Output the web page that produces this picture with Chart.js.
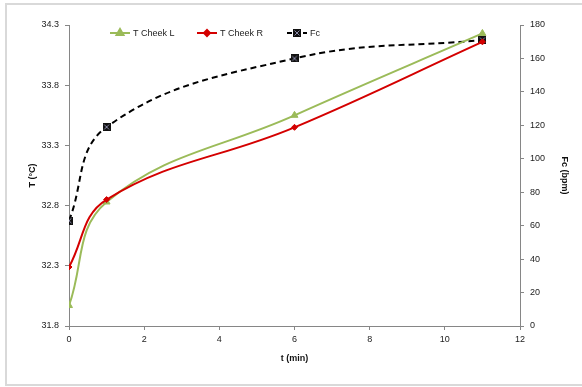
<!DOCTYPE html>
<html>
<head>
<meta charset="utf-8">
<script src="https://cdn.jsdelivr.net/npm/chart.js@4/dist/chart.umd.min.js"></script>
<style>
  html, body { margin: 0; padding: 0; background: #fff; overflow: hidden; }
  #wrap { position: relative; width: 582px; height: 387px; }
  #frame { position: absolute; left: 5px; top: 3px; width: 600px; height: 379px; border: 2px solid #d9d9d9; }
  canvas { position: absolute; left: 0; top: 0; }
</style>
</head>
<body>
<div id="wrap">
  <div id="frame"></div>
  <canvas id="chart" width="582" height="387"></canvas>
</div>
<script>
// sampling times (min)
const times = [0, 1, 6, 11]
// cheek temperatures (°C)
const cheekL = [31.97, 32.83, 33.55, 34.23]
const cheekR = [32.29, 32.85, 33.45, 34.16]
// heart rate (bpm)
const fc = [63, 119, 160, 171]

const xTicks = [0, 2, 4, 6, 8, 10, 12]
const tTicks = [31.8, 32.3, 32.8, 33.3, 33.8, 34.3]
const fcTicks = [0, 20, 40, 60, 80, 100, 120, 140, 160, 180]

const GREEN = '#9bbb59'
const RED = '#d40000'
const BLACK = '#000000'
const FONT = 'Liberation Sans, Arial, sans-serif'

const toPoints = values => values.map((v, i) => ({ x: times[i], y: v }))

// square marker with a light cross, like the Excel one
function makeSquareMarker () {
  const c = document.createElement('canvas')
  c.width = 8
  c.height = 8
  const g = c.getContext('2d')
  g.fillStyle = '#111'
  g.fillRect(0, 0, 8, 8)
  g.strokeStyle = '#8a8aa8'
  g.lineWidth = 1
  g.beginPath()
  g.moveTo(1.5, 1.5); g.lineTo(6.5, 6.5)
  g.moveTo(6.5, 1.5); g.lineTo(1.5, 6.5)
  g.stroke()
  return c
}
const squareMarker = makeSquareMarker()

const legendItems = [
  { text: 'T Cheek L', color: GREEN, style: 'triangle', x: 110 },
  { text: 'T Cheek R', color: RED, style: 'rectRot', x: 197 },
  { text: 'Fc', color: BLACK, style: 'square', x: 287, dash: [5, 3] }
]

const excelLegend = {
  id: 'excelLegend',
  afterDraw (chart) {
    const ctx = chart.ctx
    const y = 33
    ctx.save()
    legendItems.forEach(item => {
      ctx.strokeStyle = item.color
      ctx.lineWidth = 2
      ctx.setLineDash(item.dash || [])
      ctx.beginPath()
      ctx.moveTo(item.x, y)
      ctx.lineTo(item.x + 20, y)
      ctx.stroke()
      ctx.setLineDash([])
      const cx = item.x + 10
      if (item.style === 'square') {
        ctx.drawImage(squareMarker, cx - 4, y - 4)
      } else {
        Chart.helpers.drawPoint(ctx, {
          pointStyle: item.style,
          radius: item.style === 'triangle' ? 4 : 3,
          rotation: 0,
          borderWidth: 1
        }, cx, y)
        ctx.fillStyle = item.color
        ctx.fill()
      }
      ctx.fillStyle = '#222'
      ctx.font = '9px ' + FONT
      ctx.textBaseline = 'middle'
      ctx.fillText(item.text, item.x + 23, y + 0.5)
    })
    ctx.restore()
  }
}

const tickFont = { family: FONT, size: 9 }
const titleFont = { family: FONT, size: 9, weight: 'bold' }
const axisGrid = {
  drawOnChartArea: false,
  color: '#868686',
  tickLength: 4,
  tickColor: '#868686'
}
const axisBorder = { color: '#868686', width: 1 }

const chart = new Chart(document.getElementById('chart').getContext('2d'), {
  type: 'scatter',
  data: {
    datasets: [
      {
        label: 'T Cheek L',
        data: toPoints(cheekL),
        yAxisID: 'yT',
        showLine: true,
        borderColor: GREEN,
        backgroundColor: GREEN,
        borderWidth: 2,
        tension: 0.4,
        pointStyle: 'triangle',
        pointRadius: 4,
        pointBorderWidth: 1,
        order: 2
      },
      {
        label: 'T Cheek R',
        data: toPoints(cheekR),
        yAxisID: 'yT',
        showLine: true,
        borderColor: RED,
        backgroundColor: RED,
        borderWidth: 2,
        tension: 0.4,
        pointStyle: 'rectRot',
        pointRadius: 3,
        pointBorderWidth: 1,
        order: 1
      },
      {
        label: 'Fc',
        data: toPoints(fc),
        yAxisID: 'yFc',
        showLine: true,
        borderColor: BLACK,
        backgroundColor: BLACK,
        borderWidth: 2,
        borderDash: [6, 4],
        tension: 0.4,
        pointStyle: squareMarker,
        pointRadius: 4,
        order: 3
      }
    ]
  },
  options: {
    responsive: false,
    animation: false,
    events: [],
    layout: { padding: { left: 25, right: 12, top: 25, bottom: 23 } },
    plugins: {
      legend: { display: false },
      tooltip: { enabled: false }
    },
    scales: {
      x: {
        type: 'linear',
        min: 0,
        max: 12,
        afterBuildTicks: scale => { scale.ticks = xTicks.map(v => ({ value: v })) },
        afterFit: scale => { scale.height = 38 },
        grid: axisGrid,
        border: axisBorder,
        ticks: { font: tickFont, color: '#222', padding: 4, maxRotation: 0 },
        title: { display: true, text: 't (min)', font: titleFont, color: '#111', padding: 0 }
      },
      yT: {
        type: 'linear',
        position: 'left',
        min: 31.8,
        max: 34.3,
        afterBuildTicks: scale => { scale.ticks = tTicks.map(v => ({ value: v })) },
        afterFit: scale => { scale.width = 44 },
        grid: axisGrid,
        border: axisBorder,
        ticks: { font: tickFont, color: '#222', padding: 6, callback: v => v.toFixed(1) },
        title: { display: true, text: 'T (°C)', font: titleFont, color: '#111', padding: { top: 2, bottom: 0 } }
      },
      yFc: {
        type: 'linear',
        position: 'right',
        min: 0,
        max: 180,
        afterBuildTicks: scale => { scale.ticks = fcTicks.map(v => ({ value: v })) },
        afterFit: scale => { scale.width = 50 },
        grid: axisGrid,
        border: axisBorder,
        ticks: { font: tickFont, color: '#222', padding: 6 },
        title: { display: true, text: 'Fc (bpm)', font: titleFont, color: '#111', padding: { top: 0, bottom: 0 } }
      }
    }
  },
  plugins: [excelLegend]
})
</script>
</body>
</html>
